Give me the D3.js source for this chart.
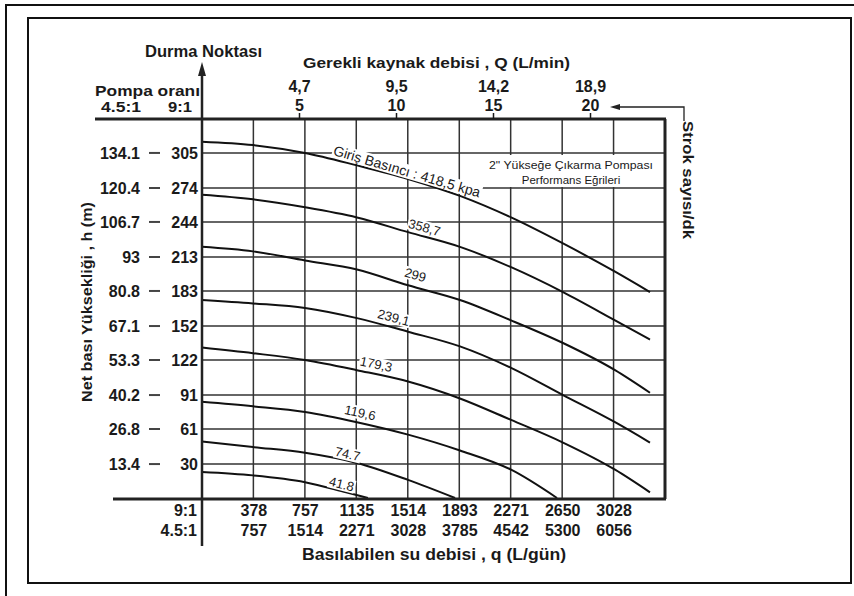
<!DOCTYPE html>
<html><head><meta charset="utf-8">
<script src="https://cdn.jsdelivr.net/npm/d3@7"></script>
<style>
body{margin:0;background:#fff}
svg{display:block}
.b{font-family:"Liberation Sans",Arial,sans-serif;font-weight:bold;fill:#1a1a1a}
.r{font-family:"Liberation Sans",Arial,sans-serif;fill:#1a1a1a}
</style></head><body>
<svg id="c" width="854" height="596"></svg>
<script>
// ---- data ----
const q91 = [378, 757, 1135, 1514, 1893, 2271, 2650, 3028];          // L/gün, 9:1
const q451 = [757, 1514, 2271, 3028, 3785, 4542, 5300, 6056];        // L/gün, 4.5:1
const h91 = [305, 274, 244, 213, 183, 152, 122, 91, 61, 30];         // head, 9:1
const h451 = ["134.1", "120.4", "106.7", "93", "80.8", "67.1", "53.3", "40.2", "26.8", "13.4"];
const strokes = [5, 10, 15, 20];                                     // strok/dk
const flowQ = ["4,7", "9,5", "14,2", "18,9"];                        // L/min

const pressureLabels = ["Giriş Basıncı : 418,5 kpa", "358,7", "299", "239,1", "179,3", "119,6", "74.7", "41.8"];
const qFull = [0, 375, 758, 1140, 1516, 1898, 2274, 2656, 3039, 3296];
const h418 = [315, 312, 305, 294, 282, 267, 248, 225, 200, 182];
const h359 = [268, 264, 257, 248, 235, 222, 204, 182, 157, 140];
const h299 = [222, 218, 210, 202, 188, 175, 157, 137, 113, 93];
const h239 = [175, 172, 168, 159, 147, 134, 115, 91, 67, 49];
const h179 = [133, 128, 122, 113, 103, 88, 69, 49, 25, 5];
const q120 = [0, 375, 758, 1140, 1516, 1898, 2274, 2612];
const h120 = [85, 81, 76, 67, 56, 42, 25, 0];
const q75 = [0, 375, 758, 1140, 1516, 1862];
const h75 = [50, 45, 40, 31, 16, 0];
const q42 = [0, 375, 758, 1060, 1221];
const h42 = [23, 20, 14, 5, 0];
const labelQ = [1494, 1619, 1545, 1391, 1266, 1148, 1060, 1015];

const seriesQ = [qFull, qFull, qFull, qFull, qFull, q120, q75, q42];
const seriesH = [h418, h359, h299, h239, h179, h120, h75, h42];

// ---- layout ----
const svg = d3.select("#c");
const x = d3.scaleLinear().domain([0, 3406.5]).range([202, 665]);
const y = d3.scaleLinear().domain([0, 335]).range([498, 119]);
const s = d3.scaleLinear().domain([0, 20]).range([202, 590]);
const ink = "#1a1a1a";

// frames
svg.append("rect").attr("x", 6).attr("y", 5).attr("width", 900).attr("height", 700)
  .attr("fill", "none").attr("stroke", "#111").attr("stroke-width", 2);
svg.append("rect").attr("x", 28).attr("y", 18).attr("width", 823).attr("height", 565)
  .attr("fill", "none").attr("stroke", "#111").attr("stroke-width", 2);

// grid
const grid = svg.append("g").attr("stroke", "#333").attr("stroke-width", 1.5);
grid.selectAll(".v").data(q91).join("line")
  .attr("x1", d => x(d)).attr("x2", d => x(d)).attr("y1", y(335)).attr("y2", y(0));
grid.selectAll(".h").data(h91).join("line")
  .attr("x1", x(0)).attr("x2", x(3406.5)).attr("y1", d => y(d)).attr("y2", d => y(d));

// helpers
function interp(qa, ha, q) {
  for (let i = 1; i < qa.length; i++) {
    if (q <= qa[i]) { const t = (q - qa[i-1]) / (qa[i] - qa[i-1]); return ha[i-1] + t * (ha[i] - ha[i-1]); }
  }
  return ha[ha.length - 1];
}
const labelOff = [7, 9, 12, 10, 10, 10, 7, 7];

// box (title inside plot)
const bg = svg.append("g");
bg.append("rect").attr("x", 486).attr("y", 155).attr("width", 170).attr("height", 32).attr("fill", "#fff");

// labels backgrounds + texts groups
const labelG = [];
pressureLabels.forEach((t, i) => {
  const qa = seriesQ[i], ha = seriesH[i], lq = labelQ[i];
  const px = x(lq), py = y(interp(qa, ha, lq));
  const p1 = [x(lq - 150), y(interp(qa, ha, lq - 150))], p2 = [x(lq + 150), y(interp(qa, ha, lq + 150))];
  const ang = Math.atan2(p2[1] - p1[1], p2[0] - p1[0]) * 180 / Math.PI;
  const g = bg.append("g").attr("transform", `translate(${px},${py}) rotate(${ang}) translate(0,${-labelOff[i]})`);
  const tx = g.append("text").attr("class", "r").attr("text-anchor", "middle").attr("dy", "0.35em")
    .style("font-size", i === 0 ? "14px" : "13px").text(t);
  const bb = tx.node().getBBox();
  g.insert("rect", "text").attr("x", bb.x - 1).attr("y", bb.y + 1).attr("width", bb.width + 2).attr("height", bb.height - 2).attr("fill", "#fff");
  labelG.push(g);
});

// curves
const line = d3.line().x(d => x(d[0])).y(d => y(d[1])).curve(d3.curveMonotoneX);
svg.append("g").selectAll("path").data(seriesH.map((h, i) => h.map((v, j) => [seriesQ[i][j], v])))
  .join("path").attr("d", line).attr("fill", "none").attr("stroke", "#111").attr("stroke-width", 2);

// raise label texts above curves
labelG.forEach(g => svg.node().appendChild(g.node()));

svg.append("text").attr("class", "r").attr("x", 571).attr("y", 169).attr("text-anchor", "middle")
  .attr("textLength", 164).attr("lengthAdjust", "spacingAndGlyphs")
  .style("font-size", "11.5px").text("2\" Yükseğe Çıkarma Pompası");
svg.append("text").attr("class", "r").attr("x", 571).attr("y", 184).attr("text-anchor", "middle")
  .style("font-size", "11.5px").text("Performans Eğrileri");

// frame lines
const fr = svg.append("g").attr("stroke", "#222").attr("fill", "none");
fr.append("line").attr("x1", 95).attr("x2", 666).attr("y1", 119).attr("y2", 119).attr("stroke-width", 3);
fr.append("line").attr("x1", 113).attr("x2", 666).attr("y1", 499).attr("y2", 499).attr("stroke-width", 3);
fr.append("line").attr("x1", 665).attr("x2", 665).attr("y1", 119).attr("y2", 499).attr("stroke-width", 3);
fr.append("line").attr("x1", 202).attr("x2", 202).attr("y1", 74).attr("y2", 546).attr("stroke-width", 2.5);
svg.append("path").attr("d", "M202,62 L198,76 L206,76 Z").attr("fill", "#222");
// strok arrow
fr.append("path").attr("d", "M684,121 V107 H619").attr("stroke-width", 1.3);
svg.append("path").attr("d", "M610,107 L620,104 L620,110 Z").attr("fill", "#222");

// axes
function styleAxis(g, size) {
  g.attr("font-family", null).attr("font-size", null).attr("class", "b")
    .style("font-size", size + "px").style("color", ink);
  g.select(".domain").remove();
}
svg.append("g").attr("transform", "translate(0,499)")
  .call(d3.axisBottom(x).tickValues(q91).tickSize(0).tickFormat(d => String(d)))
  .call(g => styleAxis(g, 16)).call(g => g.selectAll("text").attr("y", 17).attr("dy", 0));
svg.append("g").attr("transform", "translate(0,499)")
  .call(d3.axisBottom(x).tickValues(q91).tickSize(0).tickFormat((d, i) => String(q451[i])))
  .call(g => styleAxis(g, 16)).call(g => g.selectAll("text").attr("y", 37).attr("dy", 0));
svg.append("text").attr("class", "b").attr("x", 197).attr("y", 516).attr("text-anchor", "end").style("font-size", "16px").text("9:1");
svg.append("text").attr("class", "b").attr("x", 197).attr("y", 536).attr("text-anchor", "end").style("font-size", "16px").text("4.5:1");
svg.append("text").attr("class", "b").attr("x", 302).attr("y", 560).attr("textLength", 264).attr("lengthAdjust", "spacingAndGlyphs")
  .style("font-size", "16px").text("Basılabilen su debisi , q  (L/gün)");

// left
svg.append("g").attr("transform", "translate(202,0)")
  .call(d3.axisLeft(y).tickValues(h91).tickSize(0).tickPadding(4))
  .call(g => styleAxis(g, 16));
svg.append("g").attr("transform", "translate(202,0)")
  .call(d3.axisLeft(y).tickValues(h91).tickSize(0).tickFormat((d, i) => h451[i]))
  .call(g => styleAxis(g, 16)).call(g => g.selectAll("text").attr("x", -62).attr("text-anchor", "end"));
svg.append("g").attr("stroke", "#444").attr("stroke-width", 2).selectAll("line").data(h91).join("line")
  .attr("x1", 149).attr("x2", 160).attr("y1", d => y(d)).attr("y2", d => y(d));
svg.append("text").attr("class", "b").attr("transform", "translate(92,402) rotate(-90)")
  .attr("textLength", 200).attr("lengthAdjust", "spacingAndGlyphs").style("font-size", "15px")
  .text("Net bası Yüksekliği , h (m)");

// top
svg.append("g").attr("transform", "translate(0,119)")
  .call(d3.axisTop(s).tickValues(strokes).tickSize(6).tickPadding(2))
  .call(g => styleAxis(g, 16)).call(g => g.selectAll("line").attr("stroke-width", 1.5));
svg.append("g").attr("transform", "translate(0,119)")
  .call(d3.axisTop(s).tickValues(strokes).tickSize(0).tickFormat((d, i) => flowQ[i]))
  .call(g => styleAxis(g, 16)).call(g => g.selectAll("text").attr("y", -27));
svg.append("text").attr("class", "b").attr("x", 95).attr("y", 96).attr("textLength", 105).attr("lengthAdjust", "spacingAndGlyphs")
  .style("font-size", "15px").text("Pompa oranı");
svg.append("text").attr("class", "b").attr("x", 121).attr("y", 112).attr("text-anchor", "middle")
  .attr("textLength", 40).attr("lengthAdjust", "spacingAndGlyphs").style("font-size", "15px").text("4.5:1");
svg.append("text").attr("class", "b").attr("x", 180).attr("y", 112).attr("text-anchor", "middle")
  .attr("textLength", 24).attr("lengthAdjust", "spacingAndGlyphs").style("font-size", "15px").text("9:1");
svg.append("text").attr("class", "b").attr("x", 145).attr("y", 57).attr("textLength", 117).attr("lengthAdjust", "spacingAndGlyphs")
  .style("font-size", "16px").text("Durma Noktası");
svg.append("text").attr("class", "b").attr("x", 303).attr("y", 68).attr("textLength", 267).attr("lengthAdjust", "spacingAndGlyphs")
  .style("font-size", "15px").text("Gerekli kaynak debisi , Q  (L/min)");
svg.append("text").attr("class", "b").attr("transform", "translate(683,121) rotate(90)")
  .attr("textLength", 118).attr("lengthAdjust", "spacingAndGlyphs").style("font-size", "15px")
  .text("Strok sayısı/dk");
</script>
</body></html>
